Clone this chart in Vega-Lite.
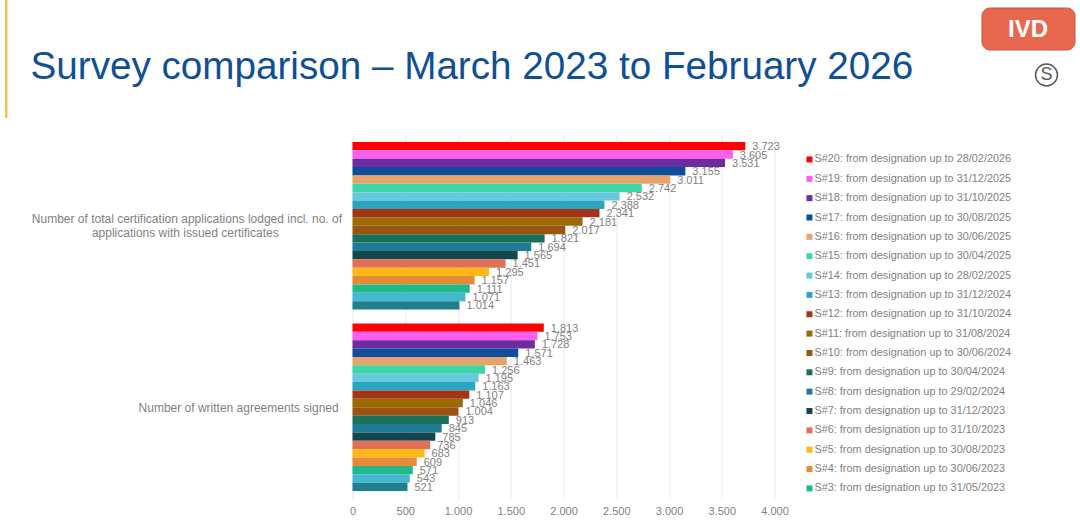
{
  "$schema": "https://vega.github.io/schema/vega-lite/v6.json",
  "width": 422,
  "height": 363,
  "autosize": {"type": "none"},
  "padding": {"left": 352.5, "top": 135, "right": 305.5, "bottom": 25},
  "background": "white",
  "config": {
    "view": {"stroke": null},
    "locale": {"number": {"decimal": ",", "thousands": ".", "grouping": [3], "currency": ["", ""]}},
    "font": "Liberation Sans"
  },
  "title": {
    "text": "Survey comparison – March 2023 to February 2026",
    "anchor": "start",
    "frame": "group",
    "orient": "top",
    "dx": -322,
    "dy": 87,
    "offset": 0,
    "fontSize": 38.65,
    "fontWeight": "normal",
    "font": "Liberation Sans",
    "color": "#0f4f96"
  },
  "datasets": {
    "surveys": [
      {"metric": "Number of total certification applications lodged incl. no. of|applications with issued certificates\u00a0\u00a0\u00a0\u00a0\u00a0\u00a0\u00a0\u00a0\u00a0\u00a0\u00a0\u00a0\u00a0\u00a0\u00a0\u00a0\u00a0\u00a0\u00a0\u200b", "survey": "S#20: from designation up to 28/02/2026", "value": 3723},
      {"metric": "Number of total certification applications lodged incl. no. of|applications with issued certificates\u00a0\u00a0\u00a0\u00a0\u00a0\u00a0\u00a0\u00a0\u00a0\u00a0\u00a0\u00a0\u00a0\u00a0\u00a0\u00a0\u00a0\u00a0\u00a0\u200b", "survey": "S#19: from designation up to 31/12/2025", "value": 3605},
      {"metric": "Number of total certification applications lodged incl. no. of|applications with issued certificates\u00a0\u00a0\u00a0\u00a0\u00a0\u00a0\u00a0\u00a0\u00a0\u00a0\u00a0\u00a0\u00a0\u00a0\u00a0\u00a0\u00a0\u00a0\u00a0\u200b", "survey": "S#18: from designation up to 31/10/2025", "value": 3531},
      {"metric": "Number of total certification applications lodged incl. no. of|applications with issued certificates\u00a0\u00a0\u00a0\u00a0\u00a0\u00a0\u00a0\u00a0\u00a0\u00a0\u00a0\u00a0\u00a0\u00a0\u00a0\u00a0\u00a0\u00a0\u00a0\u200b", "survey": "S#17: from designation up to 30/08/2025", "value": 3155},
      {"metric": "Number of total certification applications lodged incl. no. of|applications with issued certificates\u00a0\u00a0\u00a0\u00a0\u00a0\u00a0\u00a0\u00a0\u00a0\u00a0\u00a0\u00a0\u00a0\u00a0\u00a0\u00a0\u00a0\u00a0\u00a0\u200b", "survey": "S#16: from designation up to 30/06/2025", "value": 3011},
      {"metric": "Number of total certification applications lodged incl. no. of|applications with issued certificates\u00a0\u00a0\u00a0\u00a0\u00a0\u00a0\u00a0\u00a0\u00a0\u00a0\u00a0\u00a0\u00a0\u00a0\u00a0\u00a0\u00a0\u00a0\u00a0\u200b", "survey": "S#15: from designation up to 30/04/2025", "value": 2742},
      {"metric": "Number of total certification applications lodged incl. no. of|applications with issued certificates\u00a0\u00a0\u00a0\u00a0\u00a0\u00a0\u00a0\u00a0\u00a0\u00a0\u00a0\u00a0\u00a0\u00a0\u00a0\u00a0\u00a0\u00a0\u00a0\u200b", "survey": "S#14: from designation up to 28/02/2025", "value": 2532},
      {"metric": "Number of total certification applications lodged incl. no. of|applications with issued certificates\u00a0\u00a0\u00a0\u00a0\u00a0\u00a0\u00a0\u00a0\u00a0\u00a0\u00a0\u00a0\u00a0\u00a0\u00a0\u00a0\u00a0\u00a0\u00a0\u200b", "survey": "S#13: from designation up to 31/12/2024", "value": 2388},
      {"metric": "Number of total certification applications lodged incl. no. of|applications with issued certificates\u00a0\u00a0\u00a0\u00a0\u00a0\u00a0\u00a0\u00a0\u00a0\u00a0\u00a0\u00a0\u00a0\u00a0\u00a0\u00a0\u00a0\u00a0\u00a0\u200b", "survey": "S#12: from designation up to 31/10/2024", "value": 2341},
      {"metric": "Number of total certification applications lodged incl. no. of|applications with issued certificates\u00a0\u00a0\u00a0\u00a0\u00a0\u00a0\u00a0\u00a0\u00a0\u00a0\u00a0\u00a0\u00a0\u00a0\u00a0\u00a0\u00a0\u00a0\u00a0\u200b", "survey": "S#11: from designation up to 31/08/2024", "value": 2181},
      {"metric": "Number of total certification applications lodged incl. no. of|applications with issued certificates\u00a0\u00a0\u00a0\u00a0\u00a0\u00a0\u00a0\u00a0\u00a0\u00a0\u00a0\u00a0\u00a0\u00a0\u00a0\u00a0\u00a0\u00a0\u00a0\u200b", "survey": "S#10: from designation up to 30/06/2024", "value": 2017},
      {"metric": "Number of total certification applications lodged incl. no. of|applications with issued certificates\u00a0\u00a0\u00a0\u00a0\u00a0\u00a0\u00a0\u00a0\u00a0\u00a0\u00a0\u00a0\u00a0\u00a0\u00a0\u00a0\u00a0\u00a0\u00a0\u200b", "survey": "S#9: from designation up to 30/04/2024", "value": 1821},
      {"metric": "Number of total certification applications lodged incl. no. of|applications with issued certificates\u00a0\u00a0\u00a0\u00a0\u00a0\u00a0\u00a0\u00a0\u00a0\u00a0\u00a0\u00a0\u00a0\u00a0\u00a0\u00a0\u00a0\u00a0\u00a0\u200b", "survey": "S#8: from designation up to 29/02/2024", "value": 1694},
      {"metric": "Number of total certification applications lodged incl. no. of|applications with issued certificates\u00a0\u00a0\u00a0\u00a0\u00a0\u00a0\u00a0\u00a0\u00a0\u00a0\u00a0\u00a0\u00a0\u00a0\u00a0\u00a0\u00a0\u00a0\u00a0\u200b", "survey": "S#7: from designation up to 31/12/2023", "value": 1565},
      {"metric": "Number of total certification applications lodged incl. no. of|applications with issued certificates\u00a0\u00a0\u00a0\u00a0\u00a0\u00a0\u00a0\u00a0\u00a0\u00a0\u00a0\u00a0\u00a0\u00a0\u00a0\u00a0\u00a0\u00a0\u00a0\u200b", "survey": "S#6: from designation up to 31/10/2023", "value": 1451},
      {"metric": "Number of total certification applications lodged incl. no. of|applications with issued certificates\u00a0\u00a0\u00a0\u00a0\u00a0\u00a0\u00a0\u00a0\u00a0\u00a0\u00a0\u00a0\u00a0\u00a0\u00a0\u00a0\u00a0\u00a0\u00a0\u200b", "survey": "S#5: from designation up to 30/08/2023", "value": 1295},
      {"metric": "Number of total certification applications lodged incl. no. of|applications with issued certificates\u00a0\u00a0\u00a0\u00a0\u00a0\u00a0\u00a0\u00a0\u00a0\u00a0\u00a0\u00a0\u00a0\u00a0\u00a0\u00a0\u00a0\u00a0\u00a0\u200b", "survey": "S#4: from designation up to 30/06/2023", "value": 1157},
      {"metric": "Number of total certification applications lodged incl. no. of|applications with issued certificates\u00a0\u00a0\u00a0\u00a0\u00a0\u00a0\u00a0\u00a0\u00a0\u00a0\u00a0\u00a0\u00a0\u00a0\u00a0\u00a0\u00a0\u00a0\u00a0\u200b", "survey": "S#3: from designation up to 31/05/2023", "value": 1111},
      {"metric": "Number of total certification applications lodged incl. no. of|applications with issued certificates\u00a0\u00a0\u00a0\u00a0\u00a0\u00a0\u00a0\u00a0\u00a0\u00a0\u00a0\u00a0\u00a0\u00a0\u00a0\u00a0\u00a0\u00a0\u00a0\u200b", "survey": "S#2", "value": 1071},
      {"metric": "Number of total certification applications lodged incl. no. of|applications with issued certificates\u00a0\u00a0\u00a0\u00a0\u00a0\u00a0\u00a0\u00a0\u00a0\u00a0\u00a0\u00a0\u00a0\u00a0\u00a0\u00a0\u00a0\u00a0\u00a0\u200b", "survey": "S#1", "value": 1014},
      {"metric": "Number of written agreements signed\u00a0\u200b", "survey": "S#20: from designation up to 28/02/2026", "value": 1813},
      {"metric": "Number of written agreements signed\u00a0\u200b", "survey": "S#19: from designation up to 31/12/2025", "value": 1753},
      {"metric": "Number of written agreements signed\u00a0\u200b", "survey": "S#18: from designation up to 31/10/2025", "value": 1728},
      {"metric": "Number of written agreements signed\u00a0\u200b", "survey": "S#17: from designation up to 30/08/2025", "value": 1571},
      {"metric": "Number of written agreements signed\u00a0\u200b", "survey": "S#16: from designation up to 30/06/2025", "value": 1463},
      {"metric": "Number of written agreements signed\u00a0\u200b", "survey": "S#15: from designation up to 30/04/2025", "value": 1256},
      {"metric": "Number of written agreements signed\u00a0\u200b", "survey": "S#14: from designation up to 28/02/2025", "value": 1195},
      {"metric": "Number of written agreements signed\u00a0\u200b", "survey": "S#13: from designation up to 31/12/2024", "value": 1163},
      {"metric": "Number of written agreements signed\u00a0\u200b", "survey": "S#12: from designation up to 31/10/2024", "value": 1107},
      {"metric": "Number of written agreements signed\u00a0\u200b", "survey": "S#11: from designation up to 31/08/2024", "value": 1046},
      {"metric": "Number of written agreements signed\u00a0\u200b", "survey": "S#10: from designation up to 30/06/2024", "value": 1004},
      {"metric": "Number of written agreements signed\u00a0\u200b", "survey": "S#9: from designation up to 30/04/2024", "value": 913},
      {"metric": "Number of written agreements signed\u00a0\u200b", "survey": "S#8: from designation up to 29/02/2024", "value": 845},
      {"metric": "Number of written agreements signed\u00a0\u200b", "survey": "S#7: from designation up to 31/12/2023", "value": 785},
      {"metric": "Number of written agreements signed\u00a0\u200b", "survey": "S#6: from designation up to 31/10/2023", "value": 736},
      {"metric": "Number of written agreements signed\u00a0\u200b", "survey": "S#5: from designation up to 30/08/2023", "value": 683},
      {"metric": "Number of written agreements signed\u00a0\u200b", "survey": "S#4: from designation up to 30/06/2023", "value": 609},
      {"metric": "Number of written agreements signed\u00a0\u200b", "survey": "S#3: from designation up to 31/05/2023", "value": 571},
      {"metric": "Number of written agreements signed\u00a0\u200b", "survey": "S#2", "value": 543},
      {"metric": "Number of written agreements signed\u00a0\u200b", "survey": "S#1", "value": 521}
    ]
  },
  "layer": [
    {
      "data": {"name": "surveys"},
      "mark": {"type": "bar"},
      "encoding": {
        "y": {
          "field": "metric",
          "type": "nominal",
          "sort": null,
          "title": null,
          "scale": {"paddingInner": 0.077, "paddingOuter": 0.0385},
          "axis": {
            "ticks": false,
            "domain": false,
            "labelPadding": 11,
            "labelFontSize": 12,
            "labelColor": "#7f7f7f",
            "labelLimit": 400,
            "labelLineHeight": 14.5,
            "labelOffset": {"expr": "indexof(datum.label, '|') >= 0 ? -7 : 1"},
            "labelExpr": "split(datum.label, '|')"
          }
        },
        "yOffset": {
          "field": "survey",
          "type": "nominal",
          "sort": null,
          "scale": {"paddingInner": 0, "paddingOuter": 0}
        },
        "x": {
          "field": "value",
          "type": "quantitative",
          "title": null,
          "scale": {"domain": [0, 4000], "nice": false},
          "axis": {
            "values": [0, 500, 1000, 1500, 2000, 2500, 3000, 3500, 4000],
            "format": ",d",
            "ticks": false,
            "domain": false,
            "grid": true,
            "gridColor": "#e8e8e8",
            "labelFlush": false,
            "labelPadding": 7,
            "labelFontSize": 11,
            "labelColor": "#7f7f7f"
          }
        },
        "color": {
          "field": "survey",
          "type": "nominal",
          "sort": null,
          "scale": {
            "domain": [
              "S#20: from designation up to 28/02/2026",
              "S#19: from designation up to 31/12/2025",
              "S#18: from designation up to 31/10/2025",
              "S#17: from designation up to 30/08/2025",
              "S#16: from designation up to 30/06/2025",
              "S#15: from designation up to 30/04/2025",
              "S#14: from designation up to 28/02/2025",
              "S#13: from designation up to 31/12/2024",
              "S#12: from designation up to 31/10/2024",
              "S#11: from designation up to 31/08/2024",
              "S#10: from designation up to 30/06/2024",
              "S#9: from designation up to 30/04/2024",
              "S#8: from designation up to 29/02/2024",
              "S#7: from designation up to 31/12/2023",
              "S#6: from designation up to 31/10/2023",
              "S#5: from designation up to 30/08/2023",
              "S#4: from designation up to 30/06/2023",
              "S#3: from designation up to 31/05/2023",
              "S#2",
              "S#1"
            ],
            "range": ["#ff0000", "#ff5cf0", "#6a2c9e", "#0f4c9c", "#e8a36a", "#3fd6a6", "#66c8dc", "#2aa5bf", "#a33417", "#9a6a05", "#9a5410", "#1a7059", "#1f7a96", "#12484d", "#e06f55", "#ffb914", "#e68a37", "#1fb98a", "#45b8d0", "#1f7f8c"]
          },
          "legend": {
            "title": null,
            "orient": "none",
            "legendX": 451.5,
            "legendY": 19,
            "padding": 0,
            "symbolType": "square",
            "symbolSize": 36,
            "symbolStrokeWidth": 0,
            "labelFontSize": 10.9,
            "labelColor": "#7f7f7f",
            "labelLimit": 300,
            "labelOffset": -0.5,
            "rowPadding": 7.35,
            "values": [
              "S#20: from designation up to 28/02/2026",
              "S#19: from designation up to 31/12/2025",
              "S#18: from designation up to 31/10/2025",
              "S#17: from designation up to 30/08/2025",
              "S#16: from designation up to 30/06/2025",
              "S#15: from designation up to 30/04/2025",
              "S#14: from designation up to 28/02/2025",
              "S#13: from designation up to 31/12/2024",
              "S#12: from designation up to 31/10/2024",
              "S#11: from designation up to 31/08/2024",
              "S#10: from designation up to 30/06/2024",
              "S#9: from designation up to 30/04/2024",
              "S#8: from designation up to 29/02/2024",
              "S#7: from designation up to 31/12/2023",
              "S#6: from designation up to 31/10/2023",
              "S#5: from designation up to 30/08/2023",
              "S#4: from designation up to 30/06/2023",
              "S#3: from designation up to 31/05/2023"
            ]
          }
        }
      }
    },
    {
      "data": {"name": "surveys"},
      "mark": {"type": "text", "align": "left", "baseline": "middle", "dx": 7, "dy": 1, "fontSize": 11, "color": "#7f7f7f"},
      "encoding": {
        "y": {"field": "metric", "type": "nominal", "sort": null},
        "yOffset": {"field": "survey", "type": "nominal", "sort": null},
        "x": {"field": "value", "type": "quantitative"},
        "text": {"field": "value", "type": "quantitative", "format": ",d"}
      }
    },
    {
      "data": {"values": [{"part": "accent"}]},
      "mark": {"type": "rect", "color": "#eec64f"},
      "encoding": {
        "x": {"value": -347.5},
        "x2": {"value": -345},
        "y": {"value": -135},
        "y2": {"value": -17}
      }
    },
    {
      "data": {"values": [{"part": "badge"}]},
      "mark": {"type": "rect", "color": "#e8684f", "stroke": "#b9573f", "strokeWidth": 1, "cornerRadius": 8},
      "encoding": {
        "x": {"value": 629.5},
        "x2": {"value": 722.5},
        "y": {"value": -127},
        "y2": {"value": -85}
      }
    },
    {
      "data": {"values": [{"label": "IVD"}]},
      "mark": {"type": "text", "fontSize": 24, "fontWeight": "bold", "color": "white", "align": "center", "baseline": "middle"},
      "encoding": {
        "x": {"value": 675.5},
        "y": {"value": -105},
        "text": {"field": "label", "type": "nominal"}
      }
    },
    {
      "data": {"values": [{"part": "ring"}]},
      "mark": {"type": "point", "shape": "circle", "filled": false, "size": 480, "color": "#5a5a5a", "strokeWidth": 1.5, "opacity": 1},
      "encoding": {
        "x": {"value": 694},
        "y": {"value": -60}
      }
    },
    {
      "data": {"values": [{"label": "S"}]},
      "mark": {"type": "text", "fontSize": 18, "color": "#5a5a5a", "align": "center", "baseline": "middle"},
      "encoding": {
        "x": {"value": 694},
        "y": {"value": -60},
        "text": {"field": "label", "type": "nominal"}
      }
    }
  ]
}
